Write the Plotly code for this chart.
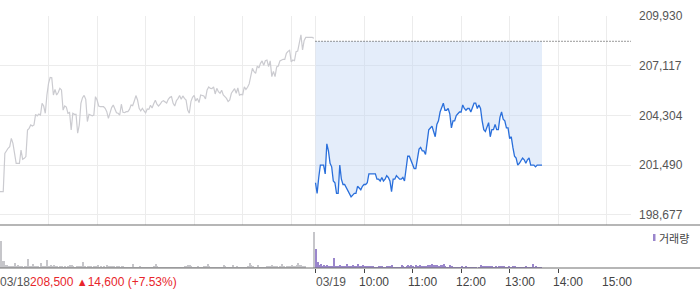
import plotly.graph_objects as go

# ---------------- data ----------------
prev_close = 208500
session_len = 390  # minutes per session (09:00-15:30)

# day 1 (03/18) prices, sampled every 2 minutes from 09:00
p1 = [200000,200000,200000,202160,202350,202450,202540,203010,202730,202160,
      201600,201600,201600,202350,201830,201880,201980,203480,203580,203770,
      203710,203770,204370,204280,204390,204330,204990,204840,204430,205460,
      206120,206460,206440,205460,205780,205460,205600,205840,205750,204610,
      204840,204780,204430,204480,203480,204430,204370,204370,203300,203770,
      204990,205310,205440,205220,203960,204370,204330,204290,204330,205370,
      205180,204840,204800,204800,204800,204710,204520,204140,204460,204750,
      204900,204650,204460,204430,204330,204940,204480,204460,204520,204520,
      204650,204900,204860,205120,205430,205180,204710,204560,204710,204560,
      204450,204670,204650,204880,204730,204970,205160,204950,204840,204940,
      205090,205140,205070,205010,205220,205330,205370,204990,204840,205140,
      205260,205440,205220,205410,205270,205180,204610,204430,205090,205330,
      205440,205120,205270,205030,205460,205430,205410,205240,205750,205920,
      205840,205820,205920,205520,205840,205650,205560,205730,205460,205370,
      205270,205090,205180,205560,205710,205820,205560,205860,205460,205500,
      205480,205920,205780,205900,206090,206560,206970,206780,206690,207100,
      206990,207250,207390,207140,207400,207440,207070,207390,206500,206800,
      206500,207050,207100,207390,207460,207480,207480,207820,207930,207990,
      207330,207440,207400,207910,207950,208520,208860,208010,208550,208720,
      208720,208720,208720,208720,208670]

# day 2 (03/19) prices, sampled every 2 minutes from 09:00, last at 13:40
p2 = [200500,199900,200800,201500,201500,201500,201000,202700,202300,201600,
      201400,200600,200500,199900,199900,201500,200700,200400,200400,200200,
      200000,199900,199700,199800,199900,199900,200300,200200,200100,200300,
      200400,200400,200500,201000,201000,201000,201000,201000,200700,200700,
      200600,200800,200600,200700,200900,200800,200600,200000,200700,200700,
      200900,200800,200700,200700,200800,200600,201200,202000,202000,201800,
      201500,201300,201300,201900,202400,202500,202300,202300,202100,202800,
      203500,203600,203700,203400,203100,203800,204000,204500,204700,205000,
      204600,204600,204700,204400,203600,204000,204000,204300,204400,204500,
      204500,204900,204700,204600,204700,204700,204500,204700,205000,205000,
      204700,204900,204700,204000,203500,203400,203600,203900,203100,203500,
      203500,203800,203500,203500,204200,204500,204100,204000,203600,203600,
      203000,203100,202500,202000,201900,201500,201600,201800,201900,201800,
      201600,201800,201900,201500,201500,201500,201400,201500,201500,201500,
      201500]

# volume (thousand shares), every 2 minutes
vol1 = [27,7,7,3,3,2,2,2,1.5,5,
        2,3,1.5,2,1,2,2,9,2,1.5,
        4,2,1.5,2,1,5,1.5,2,1.5,8,
        2,3,1.5,3,1.5,2,1,1.5,2,1,
        1.5,1,2,3,3,2.5,1,1.5,2.5,2,
        1.5,6.5,1.5,1,2,1.5,2,1,1.5,2,
        3,1,2,1,1.5,1,3,1.5,2,2.5,
        2,1,2,1.5,1,1.5,1.5,1,1,0.5,
        1,1,4,0.5,1,0.5,2.5,0.5,1,0.5,
        1,0.5,1,0.5,1,1.5,4,2,1,0.5,
        1,0.5,1,0.5,1,1,1,0.5,1,1,
        1,0.5,1,1,1.5,2,3,3,2,1,
        1,1,1.5,0.5,1,1,1.5,2,4,2,
        1,0.5,1,0.5,1,0.5,1,1,3,2,
        1,1,1,1,3,1,2,1,1,1,
        0.5,1,1,2,5,3,1.5,1,1,3.5,
        1,0.5,1,0.5,1,2,2.5,2,3,2,
        2.5,2,1,1.5,4,1.5,1,2,2.5,2,
        3,2,2.5,3,5,3,3,2,2,0,
        0,0,0,0,36]
vol2 = [19,6,3.5,4,2,3,2,3,2,2.5,
        2,10,2,2.5,2,3,2,2,1.5,4,
        2,2.5,2,3,2,2.5,4,1.5,2,3.5,
        2,2,1.5,2,1.5,2,1,0.5,1,2,
        1.5,2,0.5,1,2,2.5,2,3,1,0.5,
        1,0.5,1,3,1.5,1,2.5,3,2.5,3,
        2,1,3,2.5,3,2,2,1.5,2,3,
        3.5,3,4,3,3.5,3,2,3,3,4,
        2,1,1,3,2.5,1,0.5,0.5,1,0.5,
        2,0.5,1,2,0.5,0.5,0.5,0.5,0.5,0.5,
        0,0.5,3.3,2,1.5,2,1.5,2,1.5,2,
        1,2,0.5,2,2,2,1.5,0.5,0.5,2,
        0.5,1,2.5,2,1,0.5,0.5,0.5,0.5,0.5,
        2,0.5,0.5,0.5,4,0.5,2,0.5,0.5,0.5]

y_ticks = [209930, 207117, 204304, 201490, 198677]
y_ticktext = ["209,930", "207,117", "204,304", "201,490", "198,677"]
hour_labels = ["10:00", "11:00", "12:00", "13:00", "14:00", "15:00"]
date_labels = ["03/18", "03/19"]
summary = ["208,500", "▲", "14,600 (+7.53%)"]

# ---------------- axes positions (minutes on a 2-session axis) ----------------
t1 = list(range(0, 2 * len(p1), 2))
t2 = list(range(session_len, session_len + 2 * (len(p2) - 1), 2)) + [session_len + 280]
tv1 = list(range(0, 2 * len(vol1), 2))
tv2 = [session_len + 2 * k for k in range(len(vol2))]
hour_ticks_d1 = [60 * h for h in range(0, 7)]
hour_ticks_d2 = [session_len + 60 * h for h in range(0, 7)]
grid_ticks = hour_ticks_d1 + hour_ticks_d2
x_max = 2 * session_len

fig = go.Figure()
# fill baseline (previous close)
fig.add_trace(go.Scatter(x=t2, y=[prev_close] * len(t2), mode="lines",
                         line=dict(width=0, color="rgba(0,0,0,0)"), hoverinfo="skip"))
fig.add_trace(go.Scatter(x=t2, y=p2, mode="lines", line=dict(color="#2a6fdb", width=1.3),
                         fill="tonexty", fillcolor="rgba(196,215,243,0.45)"))
fig.add_trace(go.Scatter(x=t1, y=p1, mode="lines", line=dict(color="#cbcbd0", width=1.2)))
fig.add_trace(go.Scatter(x=[session_len, x_max], y=[prev_close, prev_close], mode="lines",
                         line=dict(color="#333333", width=1, dash="1px,2px")))
# volume
fig.add_trace(go.Bar(x=tv1, y=vol1, width=1.3, offset=0, marker=dict(color="#c6c6ca", line=dict(width=0)),
                     xaxis="x2", yaxis="y2"))
fig.add_trace(go.Bar(x=tv2, y=vol2, width=1.3, offset=0, marker=dict(color="#9a86cc", line=dict(width=0)),
                     xaxis="x2", yaxis="y2"))

H, W = 289, 700
mt, mb, mr = 16, 21, 69
ph = H - mt - mb
main_bottom = (H - mb - 225) / ph
vol_top = (H - mb - 228) / ph
pw = W - mr

fig.update_layout(
    width=W, height=H, margin=dict(l=0, r=mr, t=mt, b=mb),
    paper_bgcolor="white", plot_bgcolor="white", showlegend=False,
    hovermode=False, bargap=0,
    font=dict(family="Liberation Sans, Arial, sans-serif", size=12, color="#444"),
    xaxis=dict(domain=[0, 1], range=[0, x_max], anchor="y", tickvals=grid_ticks,
               showticklabels=False, ticks="", showgrid=True, gridcolor="#ececec",
               gridwidth=1, zeroline=False, showline=False),
    yaxis=dict(domain=[main_bottom, 1], range=[198111, 209930], side="right",
               tickvals=y_ticks, ticktext=y_ticktext, ticks="", ticklabelstandoff=7,
               tickfont=dict(size=12, color="#555"), showgrid=True, gridcolor="#ececec",
               zeroline=False, showline=False),
    xaxis2=dict(domain=[0, 1], range=[0, x_max], anchor="y2", matches="x",
                tickvals=hour_ticks_d2[:-1], ticks="outside", ticklen=4, tickcolor="#444",
                tickwidth=1, showticklabels=False, showgrid=False, zeroline=False, showline=False),
    yaxis2=dict(domain=[0, vol_top], range=[0, 40], visible=False),
)

xr = W / pw
fig.add_shape(type="line", xref="paper", yref="paper", x0=0, x1=xr, y0=main_bottom, y1=main_bottom,
              line=dict(color="#6e6e6e", width=1.2))
fig.add_shape(type="line", xref="paper", yref="paper", x0=0, x1=xr, y0=0, y1=0,
              line=dict(color="#6e6e6e", width=1.2))
# legend marker
fig.add_shape(type="rect", xref="paper", yref="paper", x0=653 / pw, x1=655.5 / pw,
              y0=(H - mb - 241) / ph, y1=(H - mb - 234) / ph, fillcolor="#9a86cc", line=dict(width=0))
fig.add_annotation(xref="paper", yref="paper", x=657 / pw, y=(H - mb - 238) / ph, xanchor="left",
                   yanchor="middle", showarrow=False, text="거래량",
                   font=dict(family="Noto Sans CJK KR", size=11, color="#444"))

lab_y = (H - mb - 281.5) / ph
fig.add_annotation(xref="x", yref="paper", x=0, y=lab_y, xanchor="left", yanchor="middle",
                   showarrow=False, xshift=-2,
                   text=(date_labels[0] + "<span style='color:#e8262b'>" + summary[0] +
                         " <span style='font-size:11px'>" + summary[1] + "</span>" + summary[2] + "</span>"),
                   font=dict(size=12, color="#555"))
fig.add_annotation(xref="x", yref="paper", x=session_len, y=lab_y, xanchor="left", yanchor="middle",
                   showarrow=False, xshift=-2, text=date_labels[1], font=dict(size=12, color="#555"))
for tv, lab in zip(hour_ticks_d2[1:], hour_labels):
    fig.add_annotation(xref="x", yref="paper", x=tv, y=lab_y, xanchor="left", yanchor="middle",
                       showarrow=False, xshift=-7, text=lab, font=dict(size=12, color="#444"))

fig.write_html("out.html")
